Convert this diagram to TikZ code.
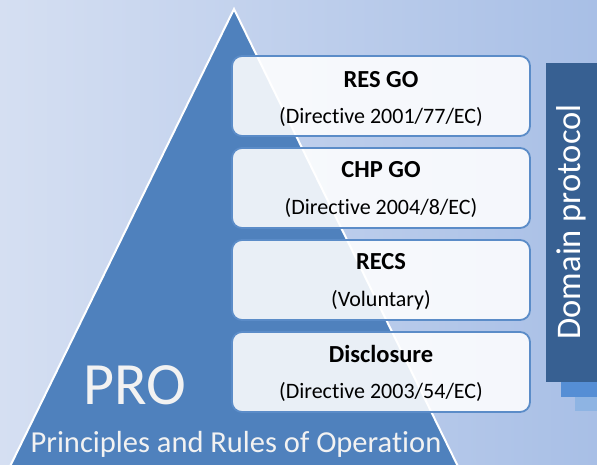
\documentclass[tikz,border=0pt]{standalone}
\usepackage{fontspec}
\setmainfont{Carlito}[Ligatures=CommonOff]
\definecolor{bgL}{RGB}{213,223,242}
\definecolor{bgR}{RGB}{168,191,230}
\definecolor{triblue}{RGB}{79,129,189}
\definecolor{boxline}{RGB}{91,140,200}
\definecolor{bardark}{RGB}{55,96,146}
\definecolor{shadA}{RGB}{85,142,213}
\definecolor{shadB}{RGB}{142,180,227}
\definecolor{lighttext}{RGB}{242,242,242}
\tikzset{
  layerbox/.style={draw=boxline, line width=1.8pt, fill=white, fill opacity=0.88,
    rounded corners=10pt, minimum width=298pt, minimum height=80pt, inner sep=0pt},
  headtxt/.style={font=\fontsize{24.5}{24.5}\selectfont\bfseries, text=black, inner sep=0pt},
  subtxt/.style={font=\fontsize{22}{22}\selectfont, text=black, inner sep=0pt},
}
\begin{document}
\begin{tikzpicture}[x=1pt,y=-1pt]
\shade[left color=bgL, right color=bgR] (0,0) rectangle (597,464);
\useasboundingbox (0,0) rectangle (597,464);
\begin{scope}
\clip (0,0) rectangle (597,464);
\draw[fill=triblue, draw=white, line width=2pt, line join=miter]
  (234,9) -- (470,491) -- (-2,491) -- cycle;
\end{scope}
% right bar with stepped shadows
\fill[shadB] (575,397) rectangle (597,411);
\fill[shadA] (561,382) rectangle (597,397);
\node[fill=bardark, minimum width=51pt, minimum height=319pt, inner sep=0pt, anchor=north west] (bar) at (546,63) {};
\node[rotate=90, text=white, font=\fontsize{34.5}{34.5}\selectfont, inner sep=0pt] (dp) at (571,222) {Domain protocol};
% layer boxes
\node[layerbox] (b1) at (381,96) {};
\node[layerbox] (b2) at (381,188) {};
\node[layerbox] (b3) at (381,280) {};
\node[layerbox] (b4) at (381,372) {};
\node[headtxt] (h1) at (381,80) {RES GO};
\node[subtxt] (s1) at (381,117) {(Directive 2001/77/EC)};
\node[headtxt] (h2) at (381,170) {CHP GO};
\node[subtxt] (s2) at (381,208) {(Directive 2004/8/EC)};
\node[headtxt] (h3) at (381,262) {RECS};
\node[subtxt] (s3) at (381,300) {(Voluntary)};
\node[headtxt] (h4) at (381,354) {Disclosure};
\node[subtxt] (s4) at (381,392) {(Directive 2003/54/EC)};
% pyramid labels
\node[text=lighttext, font=\fontsize{60}{60}\selectfont, inner sep=0pt] (pro) at (135,385) {PRO};
\node[text=lighttext, font=\fontsize{30.5}{30.5}\selectfont, inner sep=0pt] (pr) at (236,444) {Principles and Rules of Operation};
\end{tikzpicture}
\end{document}
